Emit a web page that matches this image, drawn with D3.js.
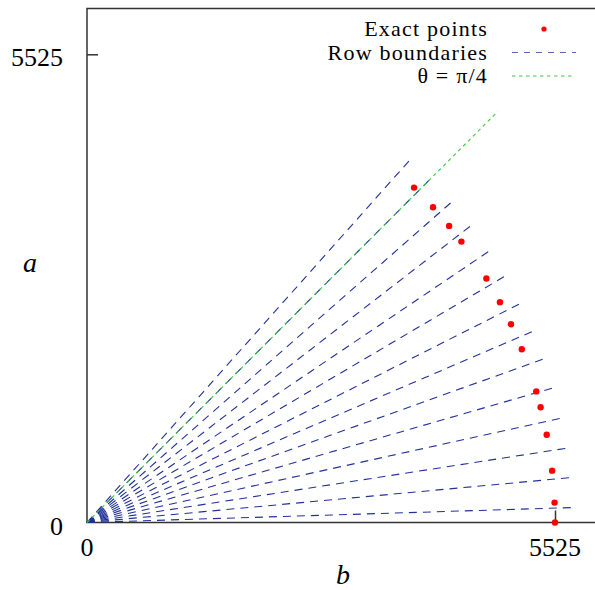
<!DOCTYPE html>
<html>
<head>
<meta charset="utf-8">
<script src="https://cdn.jsdelivr.net/npm/d3@7"></script>
<style>
  body { margin: 0; background: #fff; }
  text { font-family: "Liberation Serif", "DejaVu Serif", serif; fill: #000; }
</style>
</head>
<body>
<script>
const WIDTH = 595;
const HEIGHT = 590;

// exact lattice points on the circle a^2 + b^2 = 5525^2 (one per row)
const pointB = [3861, 4085, 4275, 4420, 4715, 4875, 5005, 5133, 5304, 5355, 5427, 5491, 5520, 5525];
const pointA = [3952, 3720, 3500, 3315, 2880, 2600, 2340, 2044, 1547, 1360, 1036, 612, 235, 0];

// row boundary rays (angle in degrees) and their length
const boundaryAngles = [48.3, 45.0, 41.3, 37.7, 34.0, 30.5, 26.8, 23.2, 19.7, 16.1, 12.4, 8.8, 5.3, 1.76];
const boundaryLength = 5750;

// theta = pi/4 line end
const diagEnd = [4850, 4850];

const tickValues = [0, 5525];
const legendLabels = ["Exact points", "Row boundaries", "θ = π/4"];

const blue = "#22319a";
const green = "#3fc83f";

const svg = d3.select("body").append("svg")
    .attr("width", WIDTH)
    .attr("height", HEIGHT);

const x = d3.scaleLinear().domain([0, 5525]).range([87, 555]);
const y = d3.scaleLinear().domain([0, 5525]).range([522.5, 54.3]);

// frame (right side runs off the picture)
svg.append("path")
    .attr("d", `M${WIDTH + 5},8.5 H87 V522.5 H${WIDTH + 5}`)
    .attr("fill", "none")
    .attr("stroke", "#333")
    .attr("stroke-width", 1.5);

// ticks
const xAxis = d3.axisBottom(x).tickValues([5525]).tickSize(-12).tickFormat("");
svg.append("g").attr("transform", "translate(0,522.5)").call(xAxis)
    .call(g => g.select(".domain").remove())
    .selectAll("line").attr("stroke", "#333").attr("stroke-width", 1.5);

const yAxis = d3.axisLeft(y).tickValues([5525]).tickSize(-11).tickFormat("");
svg.append("g").attr("transform", "translate(87,0)").call(yAxis)
    .call(g => g.select(".domain").remove())
    .selectAll("line").attr("stroke", "#333").attr("stroke-width", 1.5);

// tick labels
svg.selectAll(".xlab").data(tickValues).join("text")
    .attr("x", d => x(d))
    .attr("y", 556)
    .attr("text-anchor", "middle")
    .attr("font-size", 26)
    .text(d => d);

svg.selectAll(".ylab").data(tickValues).join("text")
    .attr("x", 63)
    .attr("y", d => y(d) + 12)
    .attr("text-anchor", "end")
    .attr("font-size", 26)
    .text(d => d);

// axis titles
svg.append("text").attr("x", 30).attr("y", 272).attr("text-anchor", "middle")
    .attr("font-size", 28).attr("font-style", "italic").text("a");
svg.append("text").attr("x", 343).attr("y", 584).attr("text-anchor", "middle")
    .attr("font-size", 28).attr("font-style", "italic").text("b");

const rad = Math.PI / 180;

// row boundaries
svg.append("g").selectAll("line").data(boundaryAngles).join("line")
    .attr("x1", x(0))
    .attr("y1", y(0))
    .attr("x2", d => x(boundaryLength * Math.cos(d * rad)))
    .attr("y2", d => y(boundaryLength * Math.sin(d * rad)))
    .attr("stroke", blue)
    .attr("stroke-width", 1.1)
    .attr("stroke-dasharray", "8,6");

// theta = pi/4
svg.append("line")
    .attr("x1", x(0)).attr("y1", y(0))
    .attr("x2", x(diagEnd[0])).attr("y2", y(diagEnd[1]))
    .attr("stroke", green)
    .attr("stroke-width", 1.1)
    .attr("stroke-dasharray", "3.5,3.5");

// exact points
svg.append("g").selectAll("circle").data(pointB).join("circle")
    .attr("cx", d => x(d))
    .attr("cy", (d, i) => y(pointA[i]))
    .attr("r", 3.2)
    .attr("fill", "#ff0000");

// legend
const legend = svg.append("g");
legend.selectAll("text").data(legendLabels).join("text")
    .attr("x", 488)
    .attr("y", (d, i) => [36, 59.5, 83][i])
    .attr("text-anchor", "end")
    .attr("font-size", 22)
    .attr("letter-spacing", 1.2)
    .text(d => d);

legend.append("circle").attr("cx", 544).attr("cy", 29).attr("r", 2.6).attr("fill", "#ff0000");
legend.append("line").attr("x1", 512).attr("x2", 576).attr("y1", 52.5).attr("y2", 52.5)
    .attr("stroke", blue).attr("stroke-width", 1.1).attr("stroke-dasharray", "6,6").attr("opacity", 0.75);
legend.append("line").attr("x1", 512).attr("x2", 573).attr("y1", 76).attr("y2", 76)
    .attr("stroke", green).attr("stroke-width", 1.1).attr("stroke-dasharray", "3.5,3.5");
</script>
</body>
</html>
